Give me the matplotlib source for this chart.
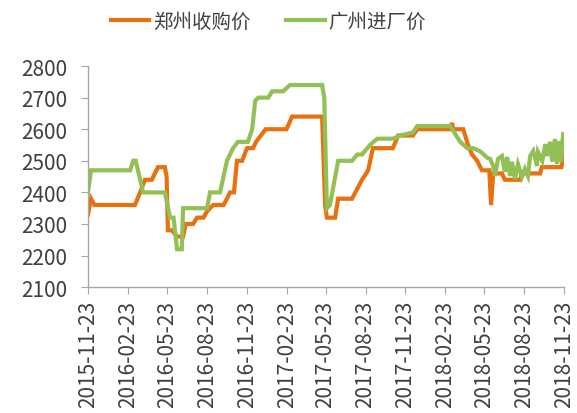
import pandas as pd
import matplotlib.pyplot as plt

plt.rcParams['font.family'] = ['Noto Sans CJK SC', 'DejaVu Sans']

# 郑州收购价（元/吨）
zz_dates = ['2015-11-23', '2015-11-30', '2015-12-08', '2016-03-10', '2016-03-22', '2016-04-02',
            '2016-04-18', '2016-04-25', '2016-05-02', '2016-05-18', '2016-05-22', '2016-05-25',
            '2016-06-03', '2016-06-15', '2016-06-29', '2016-07-05', '2016-07-22', '2016-07-31',
            '2016-08-15', '2016-08-23', '2016-09-06', '2016-09-30', '2016-10-08', '2016-10-15',
            '2016-10-24', '2016-10-31', '2016-11-12', '2016-11-23', '2016-12-07', '2016-12-14',
            '2016-12-25', '2017-01-05', '2017-02-22', '2017-03-07', '2017-05-15', '2017-05-22',
            '2017-05-26', '2017-06-14', '2017-06-21', '2017-07-23', '2017-08-15', '2017-08-29',
            '2017-09-09', '2017-10-25', '2017-11-06', '2017-12-10', '2017-12-20', '2018-03-06',
            '2018-03-10', '2018-03-13', '2018-04-05', '2018-04-16', '2018-04-25', '2018-05-07',
            '2018-05-18', '2018-06-04', '2018-06-08', '2018-06-13', '2018-07-03', '2018-07-10',
            '2018-08-14', '2018-08-18', '2018-09-29', '2018-10-03', '2018-11-17', '2018-11-23']
zz_price = [2330, 2380, 2360, 2360, 2400, 2440,
            2440, 2460, 2480, 2480, 2450, 2280,
            2280, 2260, 2260, 2300, 2300, 2320,
            2320, 2340, 2360, 2360, 2380, 2400,
            2400, 2500, 2500, 2540, 2540, 2560,
            2580, 2600, 2600, 2640, 2640, 2360,
            2320, 2320, 2380, 2380, 2440, 2470,
            2540, 2540, 2580, 2580, 2600, 2600,
            2620, 2600, 2600, 2550, 2520, 2500,
            2470, 2470, 2360, 2460, 2460, 2440,
            2440, 2460, 2460, 2480, 2480, 2520]

# 广州进厂价（元/吨）
gz_dates = ['2015-11-23', '2015-11-30', '2016-02-28', '2016-03-06', '2016-03-12', '2016-03-29',
            '2016-05-18', '2016-05-30', '2016-06-07', '2016-06-15', '2016-06-26', '2016-06-29',
            '2016-08-23', '2016-08-30', '2016-09-22', '2016-10-08', '2016-10-22', '2016-11-02',
            '2016-11-25', '2016-12-05', '2016-12-12', '2016-12-19', '2017-01-11', '2017-01-20',
            '2017-02-14', '2017-03-02', '2017-05-15', '2017-05-20', '2017-05-26', '2017-06-02',
            '2017-06-21', '2017-07-23', '2017-08-04', '2017-08-15', '2017-09-02', '2017-09-19',
            '2017-10-25', '2017-11-11', '2017-12-10', '2017-12-20', '2018-03-06', '2018-03-29',
            '2018-04-14', '2018-04-28', '2018-05-14', '2018-05-30', '2018-06-06', '2018-06-13',
            '2018-06-17', '2018-06-24', '2018-07-03', '2018-07-10', '2018-07-15', '2018-07-22',
            '2018-07-26', '2018-08-02', '2018-08-09', '2018-08-18', '2018-08-25', '2018-09-01',
            '2018-09-06', '2018-09-13', '2018-09-22', '2018-09-24', '2018-10-04', '2018-10-11',
            '2018-10-15', '2018-10-22', '2018-10-27', '2018-11-02', '2018-11-07', '2018-11-12',
            '2018-11-16', '2018-11-21']
gz_price = [2400, 2470, 2470, 2500, 2500, 2400,
            2400, 2320, 2320, 2220, 2220, 2350,
            2350, 2400, 2400, 2500, 2540, 2560,
            2560, 2600, 2690, 2700, 2700, 2720,
            2720, 2740, 2740, 2700, 2350, 2360,
            2500, 2500, 2520, 2520, 2550, 2570,
            2570, 2580, 2590, 2610, 2610, 2560,
            2540, 2540, 2530, 2510, 2506, 2484,
            2452, 2506, 2515, 2465, 2512, 2452,
            2497, 2442, 2490, 2449, 2474, 2452,
            2515, 2531, 2484, 2528, 2500, 2553,
            2515, 2560, 2497, 2569, 2490, 2563,
            2497, 2585]

tick_labels = ['2015-11-23', '2016-02-23', '2016-05-23', '2016-08-23', '2016-11-23',
               '2017-02-23', '2017-05-23', '2017-08-23', '2017-11-23', '2018-02-23',
               '2018-05-23', '2018-08-23', '2018-11-23']

zz = pd.Series(zz_price, index=pd.to_datetime(zz_dates))
gz = pd.Series(gz_price, index=pd.to_datetime(gz_dates))
ticks = pd.to_datetime(tick_labels)

fig = plt.figure(figsize=(5.77, 4.14), dpi=100)
ax = fig.add_axes([0.1525, 0.304, 0.825, 0.534])

ax.plot(zz.index, zz.values, color='#E8700F', lw=3, label='郑州收购价', solid_joinstyle='miter')
ax.plot(gz.index, gz.values, color='#93C055', lw=3, label='广州进厂价', solid_joinstyle='miter')

ax.set_xlim(ticks[0], ticks[-1])
ax.set_ylim(2100, 2800)
ax.set_yticks(range(2100, 2801, 100))
ax.set_xticks(ticks)
ax.set_xticklabels(tick_labels, rotation=90, va='top')

for side in ['top', 'right']:
    ax.spines[side].set_visible(False)
for side in ['left', 'bottom']:
    ax.spines[side].set_color('#A6A6A6')
    ax.spines[side].set_linewidth(1)

ax.tick_params(axis='y', direction='out', length=5, color='#A6A6A6', labelsize=15,
               labelcolor='#404040', pad=10)
ax.tick_params(axis='x', direction='out', length=5, color='#A6A6A6', labelsize=15,
               labelcolor='#404040', pad=4)

# 图例放在图表上方
fig.legend(loc='center', bbox_to_anchor=(0.465, 0.945), ncol=2, frameon=False,
           fontsize=14, handlelength=2.0, handletextpad=0.2, columnspacing=1.8,
           labelcolor='#404040')

plt.savefig('out.png', dpi=100)
